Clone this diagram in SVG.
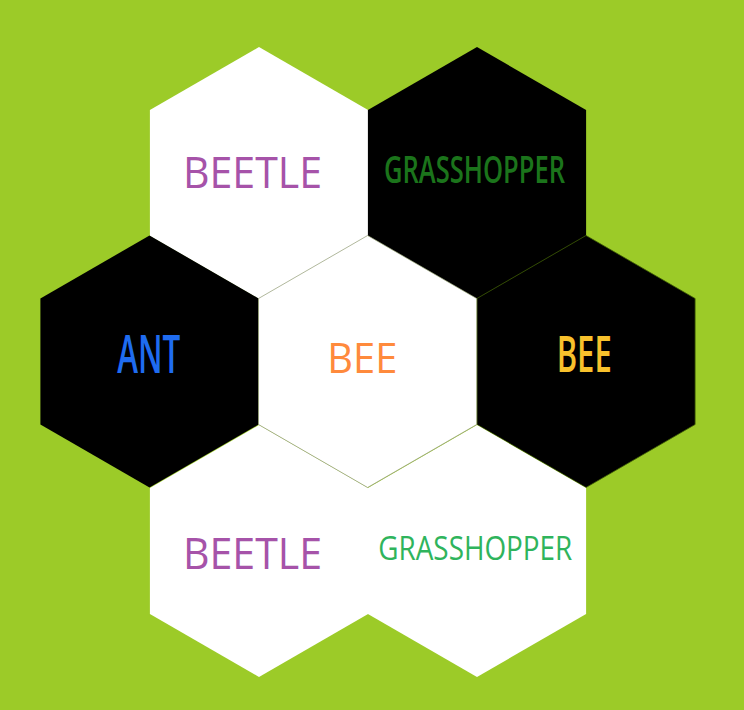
<svg xmlns="http://www.w3.org/2000/svg" width="744" height="710" viewBox="0 0 744 710">
<style>
.w{fill:#ffffff}
.b{fill:#000000}
.t{font-family:"Open Sans","Liberation Sans",sans-serif}
.c{font-family:"Open Sans","Liberation Sans",sans-serif;font-weight:600}
</style>
<rect x="0" y="0" width="744" height="710" fill="#9ccb28"/>
<g id="hex-beetle-top">
<polygon class="w" points="259,47 368.1,110 368.1,236 259,299 149.9,236 149.9,110"/>
<text class="t" x="183" y="188.3" font-size="43" fill="#a653a9" textLength="139" lengthAdjust="spacingAndGlyphs">BEETLE</text>
</g>
<g id="hex-grasshopper-top">
<polygon class="b" points="477,47 586.1,110 586.1,236 477,299 367.9,236 367.9,110"/>
<text class="c" x="384" y="183.3" font-size="37" fill="#1b741b" textLength="181" lengthAdjust="spacingAndGlyphs">GRASSHOPPER</text>
</g>
<g id="hex-ant">
<polygon class="b" points="149.5,235.5 258.6,298.5 258.6,424.5 149.5,487.5 40.4,424.5 40.4,298.5"/>
<text class="c" x="117.3" y="373.3" font-size="53" fill="#1f6cf0" textLength="63" lengthAdjust="spacingAndGlyphs">ANT</text>
</g>
<g id="hex-bee-right">
<polygon class="b" points="586,235.5 695.1,298.5 695.1,424.5 586,487.5 476.9,424.5 476.9,298.5" stroke="#3d5c05" stroke-width="0.8"/>
<text class="c" x="556.7" y="372.3" font-size="50" fill="#f8c12c" textLength="55" lengthAdjust="spacingAndGlyphs">BEE</text>
</g>
<g id="hex-beetle-bottom">
<polygon class="w" points="259,425 368.1,488 368.1,614 259,677 149.9,614 149.9,488"/>
<text class="t" x="183" y="568.5" font-size="43" fill="#a653a9" textLength="139" lengthAdjust="spacingAndGlyphs">BEETLE</text>
</g>
<g id="hex-grasshopper-bottom">
<polygon class="w" points="477,425 586.1,488 586.1,614 477,677 367.9,614 367.9,488"/>
<text class="t" x="378.3" y="560" font-size="32.6" fill="#2fb45c" textLength="194" lengthAdjust="spacingAndGlyphs">GRASSHOPPER</text>
</g>
<g id="hex-bee-center">
<polygon class="w" points="367.6,235.5 476.7,298.5 476.7,424.5 367.6,487.5 258.5,424.5 258.5,298.5" stroke="#8f9a72" stroke-width="0.7"/>
<text class="t" x="327.3" y="373.3" font-size="42" fill="#ff8a3c" textLength="70" lengthAdjust="spacingAndGlyphs">BEE</text>
</g>
<g id="connectors"></g>
</svg>
